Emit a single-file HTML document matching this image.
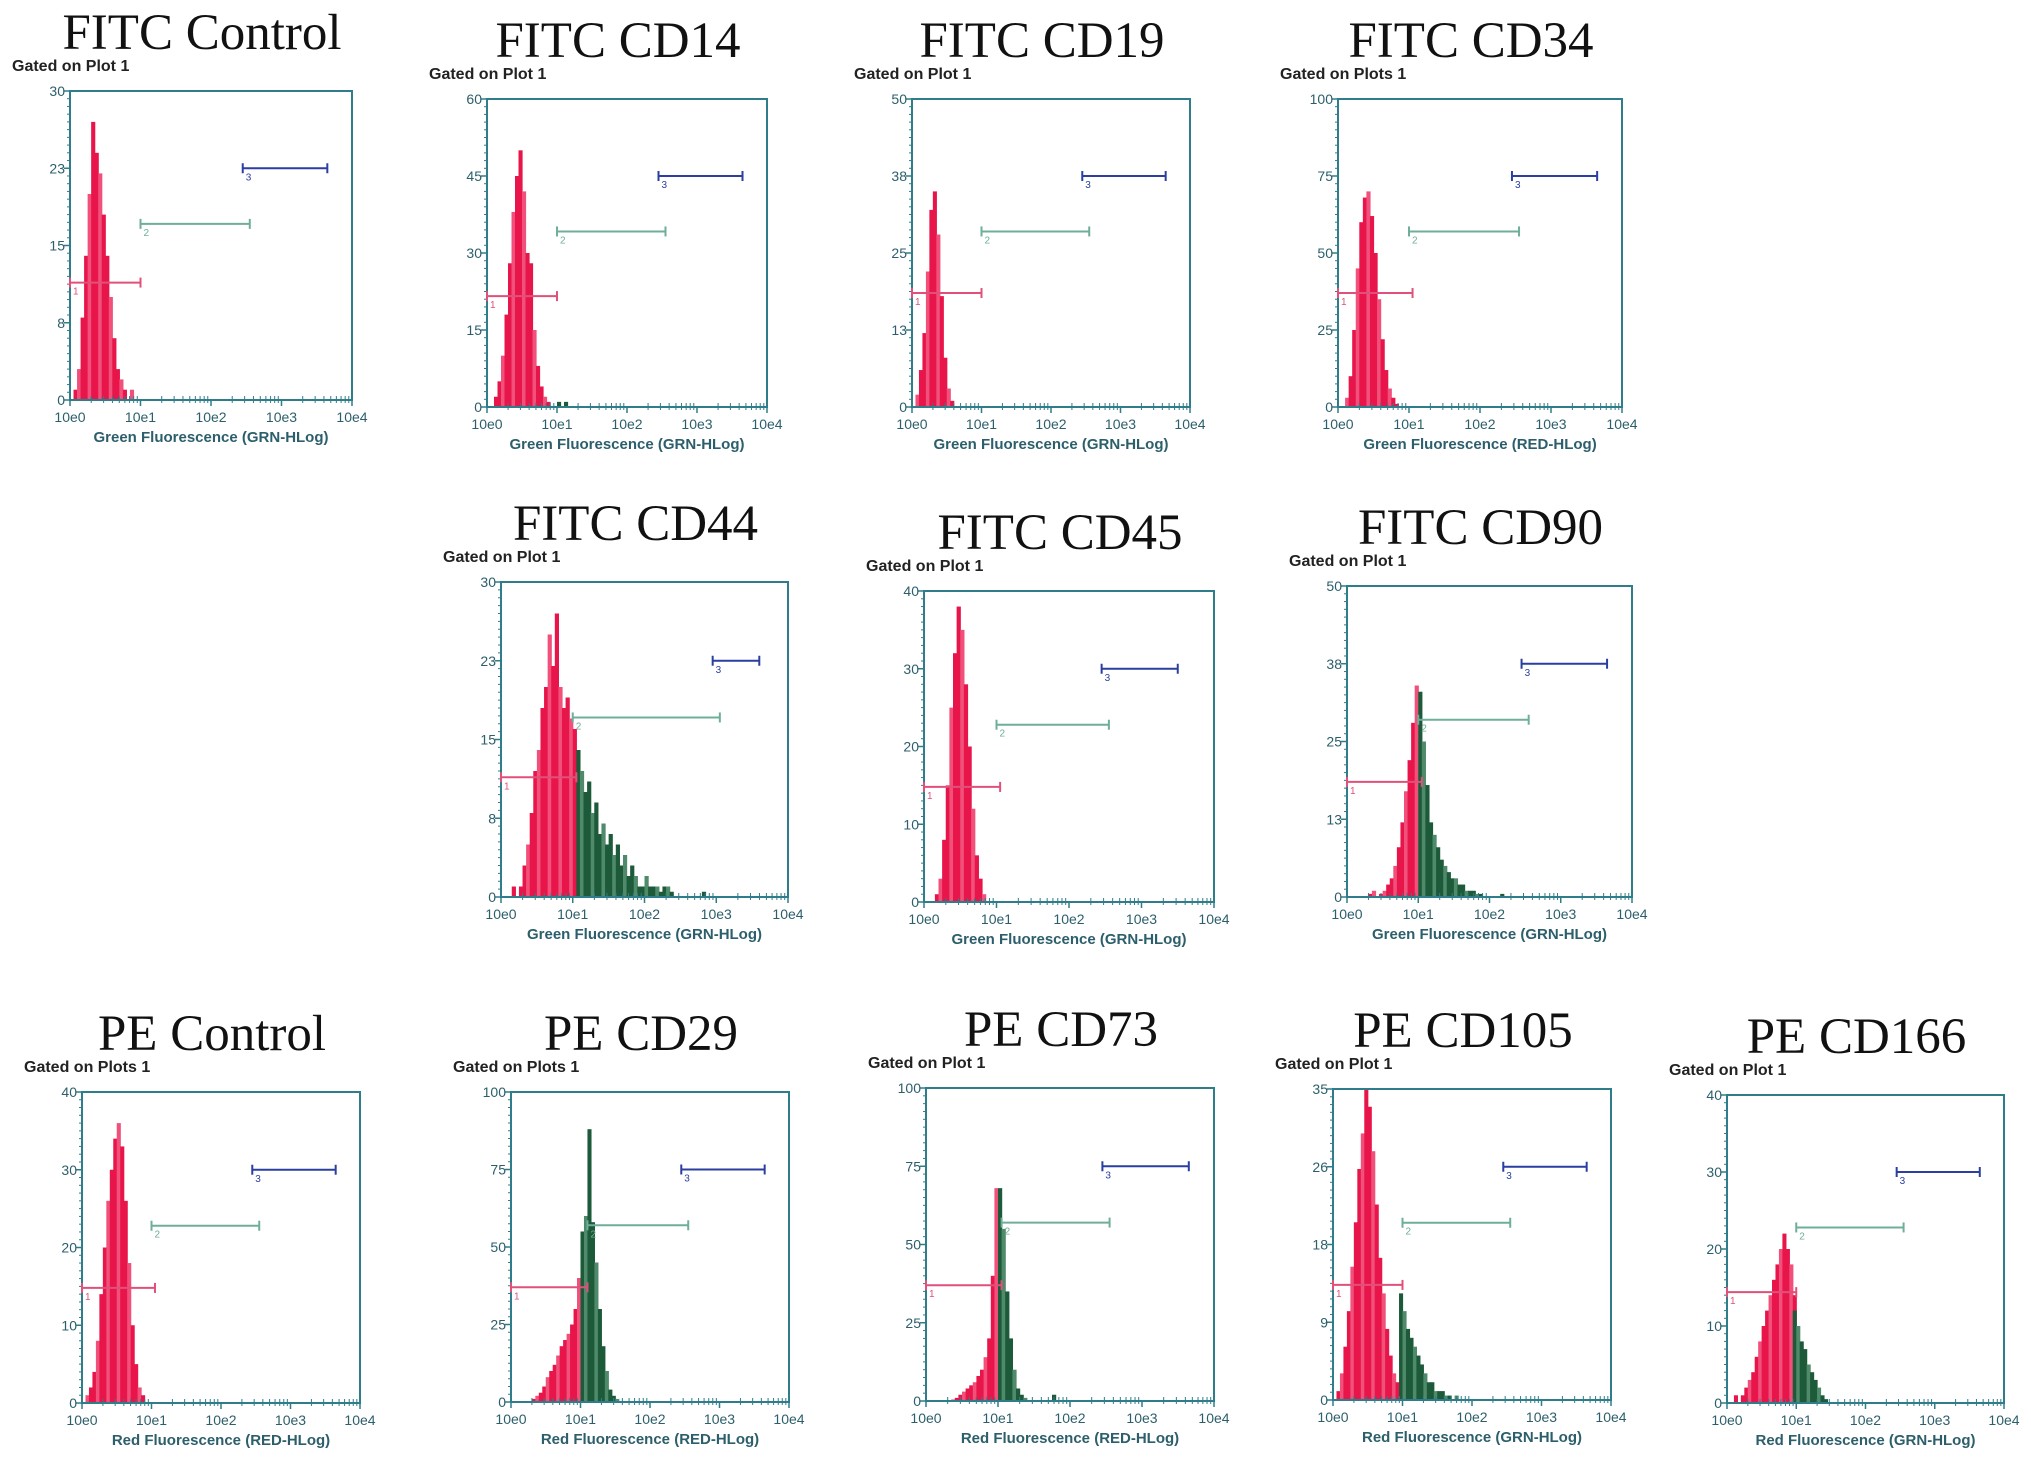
<!DOCTYPE html>
<html><head><meta charset="utf-8"><style>
html,body{margin:0;padding:0;background:#fff;}
svg{display:block;}
</style></head><body>
<svg id="fig" width="2031" height="1474" viewBox="0 0 2031 1474" xmlns="http://www.w3.org/2000/svg"></svg>
<script>
// ---- data (bins are 0.05 decade wide; start is decade of first bin) ----
const titles = ["FITC Control","FITC CD14","FITC CD19","FITC CD34","FITC CD44","FITC CD45","FITC CD90","PE Control","PE CD29","PE CD73","PE CD105","PE CD166"];
const gatedLabels = ["Gated on Plot 1","Gated on Plot 1","Gated on Plot 1","Gated on Plots 1","Gated on Plot 1","Gated on Plot 1","Gated on Plot 1","Gated on Plots 1","Gated on Plots 1","Gated on Plot 1","Gated on Plot 1","Gated on Plot 1"];
const xTitles = ["Green Fluorescence (GRN-HLog)","Green Fluorescence (GRN-HLog)","Green Fluorescence (GRN-HLog)","Green Fluorescence (RED-HLog)","Green Fluorescence (GRN-HLog)","Green Fluorescence (GRN-HLog)","Green Fluorescence (GRN-HLog)","Red Fluorescence (RED-HLog)","Red Fluorescence (RED-HLog)","Red Fluorescence (RED-HLog)","Red Fluorescence (GRN-HLog)","Red Fluorescence (GRN-HLog)"];
const yMax = [30,60,50,100,30,40,50,40,100,100,35,40];
const yTickLabels = [["0","8","15","23","30"],["0","15","30","45","60"],["0","13","25","38","50"],["0","25","50","75","100"],["0","8","15","23","30"],["0","10","20","30","40"],["0","13","25","38","50"],["0","10","20","30","40"],["0","25","50","75","100"],["0","25","50","75","100"],["0","9","18","26","35"],["0","10","20","30","40"]];
const xTickLabels = ["10e0","10e1","10e2","10e3","10e4"];
const redStart = [0.05,0,0,0.05,0,0,0,0,0,0,0.05,0.1];
const redVals = [
 [1,3,8,14,20,27,24,22,18,14,10,6,3,2,1,0,1,0,0],
 [0,0,2,5,10,18,28,38,45,50,42,30,28,15,8,4,2,1,0,0],
 [0,2,6,12,22,32,35,28,18,8,3,1,0,0,0,0,0,0,0,0],
 [0,3,10,25,45,60,68,70,62,50,35,22,12,6,3,1,0,0,0],
 [0,0,0,1,0,1,3,5,8,12,14,18,20,25,22,27,20,18,19,17,16],
 [0,0,0,1,3,8,15,25,32,38,35,28,20,12,6,3,1,0,0,0],
 [0,0,0,0,0,0,0.5,1,0,0.5,1,2,3,5,8,12,17,22,28,34],
 [0,1,2,4,8,14,20,26,30,34,36,33,26,18,10,5,2,1,0,0],
 [0,0,0,0,0,0,1,2,3,5,8,10,12,15,18,20,22,25,30,40],
 [0,0,0,0,0,0,0,0.5,1,2,3,4,5,6,8,10,14,20,40,68],
 [1,3,6,10,15,20,26,30,35,33,28,22,16,12,8,5,3,2],
 [1,0,1,2,3,4,6,8,10,12,14,16,18,20,22,20,18,14]
];
const greenStart = [1,1,1,1,1.05,1,1,1,1,1,0.95,0.95];
const greenVals = [
 [],
 [1,0,1,0],
 [],
 [],
 [14,12,10,11,8,9,6,7,5,6,4,5,3,4,2,3,2,1,1,2,1,1,1,0.5,1,1,0.5,0,0,0,0,0,0,0,0,0.5],
 [],
 [33,25,18,12,10,8,6,5,4,3,3,2,2,1,1,1,0.5,0.5,0,0,0,0,0,0.5],
 [],
 [55,60,88,58,45,30,18,10,4,2,1,0],
 [68,55,35,20,10,4,2,1,0,0,0,0,0,0,0,2,0],
 [12,10,8,7,6,5,4,3,2,2,1,1,1,0.5,0.5,0,0.5],
 [12,10,8,7,5,4,3,2,1,0.5]
];
const gate1 = [[0,1.0,0.38],[0,1.0,0.36],[0,1.0,0.37],[0,1.05,0.37],[0,1.05,0.38],[0,1.05,0.37],[0,1.05,0.37],[0,1.05,0.37],[0,1.1,0.37],[0,1.05,0.37],[0,1.0,0.37],[0,1.0,0.36]];
const gate2 = [[1.0,2.55,0.57],[1.0,2.55,0.57],[1.0,2.55,0.57],[1.0,2.55,0.57],[1.0,3.05,0.57],[1.0,2.55,0.57],[1.0,2.55,0.57],[1.0,2.55,0.57],[1.1,2.55,0.57],[1.05,2.55,0.57],[1.0,2.55,0.57],[1.0,2.55,0.57]];
const gate3 = [[2.45,3.65,0.75],[2.45,3.65,0.75],[2.45,3.65,0.75],[2.45,3.65,0.75],[2.95,3.6,0.75],[2.45,3.5,0.75],[2.45,3.65,0.75],[2.45,3.65,0.75],[2.45,3.65,0.75],[2.45,3.65,0.75],[2.45,3.65,0.75],[2.45,3.65,0.75]];

// ---- layout (pixel geometry, not data) ----
const boxes = [[70,91,352,400],[487,99,767,407],[912,99,1190,407],[1338,99,1622,407],
 [501,582,788,897],[924,591,1214,902],[1347,586,1632,897],
 [82,1092,360,1403],[511,1092,789,1402],[926,1088,1214,1401],[1333,1089,1611,1400],[1727,1095,2004,1403]];
const NS="http://www.w3.org/2000/svg";
const svg=document.getElementById('fig');
function mk(tag,attrs,parent){const e=document.createElementNS(NS,tag);for(const k in attrs)e.setAttribute(k,attrs[k]);(parent||svg).appendChild(e);return e;}
const teal="#2f7d8a", labCol="#2c5f6b";
for(let p=0;p<titles.length;p++){
  const [L,T,R,B]=boxes[p];
  const g=mk('g',{});
  
  
  const xs=d=>L+(R-L)*d/4;
  const ys=v=>B-(B-T)*v/yMax[p];
  const cx=(L+R)/2;
  const t=mk('text',{x:cx-9,y:T-42,'font-family':'"Liberation Serif",serif','font-size':51,'text-anchor':'middle',fill:'#111'},g);
  t.textContent=titles[p];
  
  
  const gl=mk('text',{x:L-58,y:T-20,'font-family':'"Liberation Sans",sans-serif','font-size':16,'font-weight':'bold',fill:'#222'},g);
  gl.textContent=gatedLabels[p];
  
  
  const bw=(R-L)/4*0.05;
  redVals[p].forEach((v,i)=>{ if(v<=0)return;
    const d=redStart[p]+i*0.05;
    const r=mk('rect',{x:xs(d),y:ys(v),width:bw+0.6,height:B-ys(v),fill:(i%3==1)?'#f0507a':'#e8154a'},g);
    
    
  });
  greenVals[p].forEach((v,i)=>{ if(v<=0)return;
    const d=greenStart[p]+i*0.05;
    const r=mk('rect',{x:xs(d),y:ys(v),width:bw+0.6,height:B-ys(v),fill:(i%3==1)?'#4f8a6a':'#1d5a3a'},g);
    
    
  });
  const bx=mk('rect',{x:L,y:T,width:R-L,height:B-T,fill:'none',stroke:teal,'stroke-width':2},g);
  
  
  yTickLabels[p].forEach((lab,i)=>{
    const y=B-(B-T)*i/4;
    mk('line',{x1:L-6,x2:L,y1:y,y2:y,stroke:teal,'stroke-width':1.5},g);
    const tx=mk('text',{x:L-5,y:y+5,'font-family':'"Liberation Sans",sans-serif','font-size':14,'text-anchor':'end',fill:labCol},g);
    tx.textContent=lab;
    
    
  });
  for(let k=1;k<40;k++){const y=B-(B-T)*k/40;mk('line',{x1:L-3,x2:L,y1:y,y2:y,stroke:teal,'stroke-width':1},g);}
  xTickLabels.forEach((lab,i)=>{
    const x=xs(i);
    mk('line',{x1:x,x2:x,y1:B,y2:B+6,stroke:teal,'stroke-width':1.5},g);
    const tx=mk('text',{x:x,y:B+22,'font-family':'"Liberation Sans",sans-serif','font-size':14,'text-anchor':'middle',fill:labCol},g);
    tx.textContent=lab;
    
    
    if(i<4)for(let m=2;m<10;m++){const xm=xs(i+Math.log10(m));mk('line',{x1:xm,x2:xm,y1:B-4,y2:B+3,stroke:teal,'stroke-width':1},g);}
  });
  const xt=mk('text',{x:cx,y:B+42,'font-family':'"Liberation Sans",sans-serif','font-size':15,'font-weight':'bold','text-anchor':'middle',fill:labCol},g);
  xt.textContent=xTitles[p];
  
  
  [[gate1[p],'#e0507a','1'],[gate2[p],'#6fae98','2'],[gate3[p],'#2a3fa0','3']].forEach(([gt,c,n])=>{
    const x1=xs(gt[0]),x2=xs(gt[1]),y=B-(B-T)*gt[2];
    const gg=mk('g',{},g);
    
    
    mk('line',{x1:x1,x2:x2,y1:y,y2:y,stroke:c,'stroke-width':2},gg);
    mk('line',{x1:x1,x2:x1,y1:y-5,y2:y+5,stroke:c,'stroke-width':2},gg);
    mk('line',{x1:x2,x2:x2,y1:y-5,y2:y+5,stroke:c,'stroke-width':2},gg);
    const nt=mk('text',{x:x1+3,y:y+12,'font-family':'"Liberation Sans",sans-serif','font-size':10,fill:c},gg);
    nt.textContent=n;
  });
  svg.appendChild(g);
}
</script>
</body></html>
